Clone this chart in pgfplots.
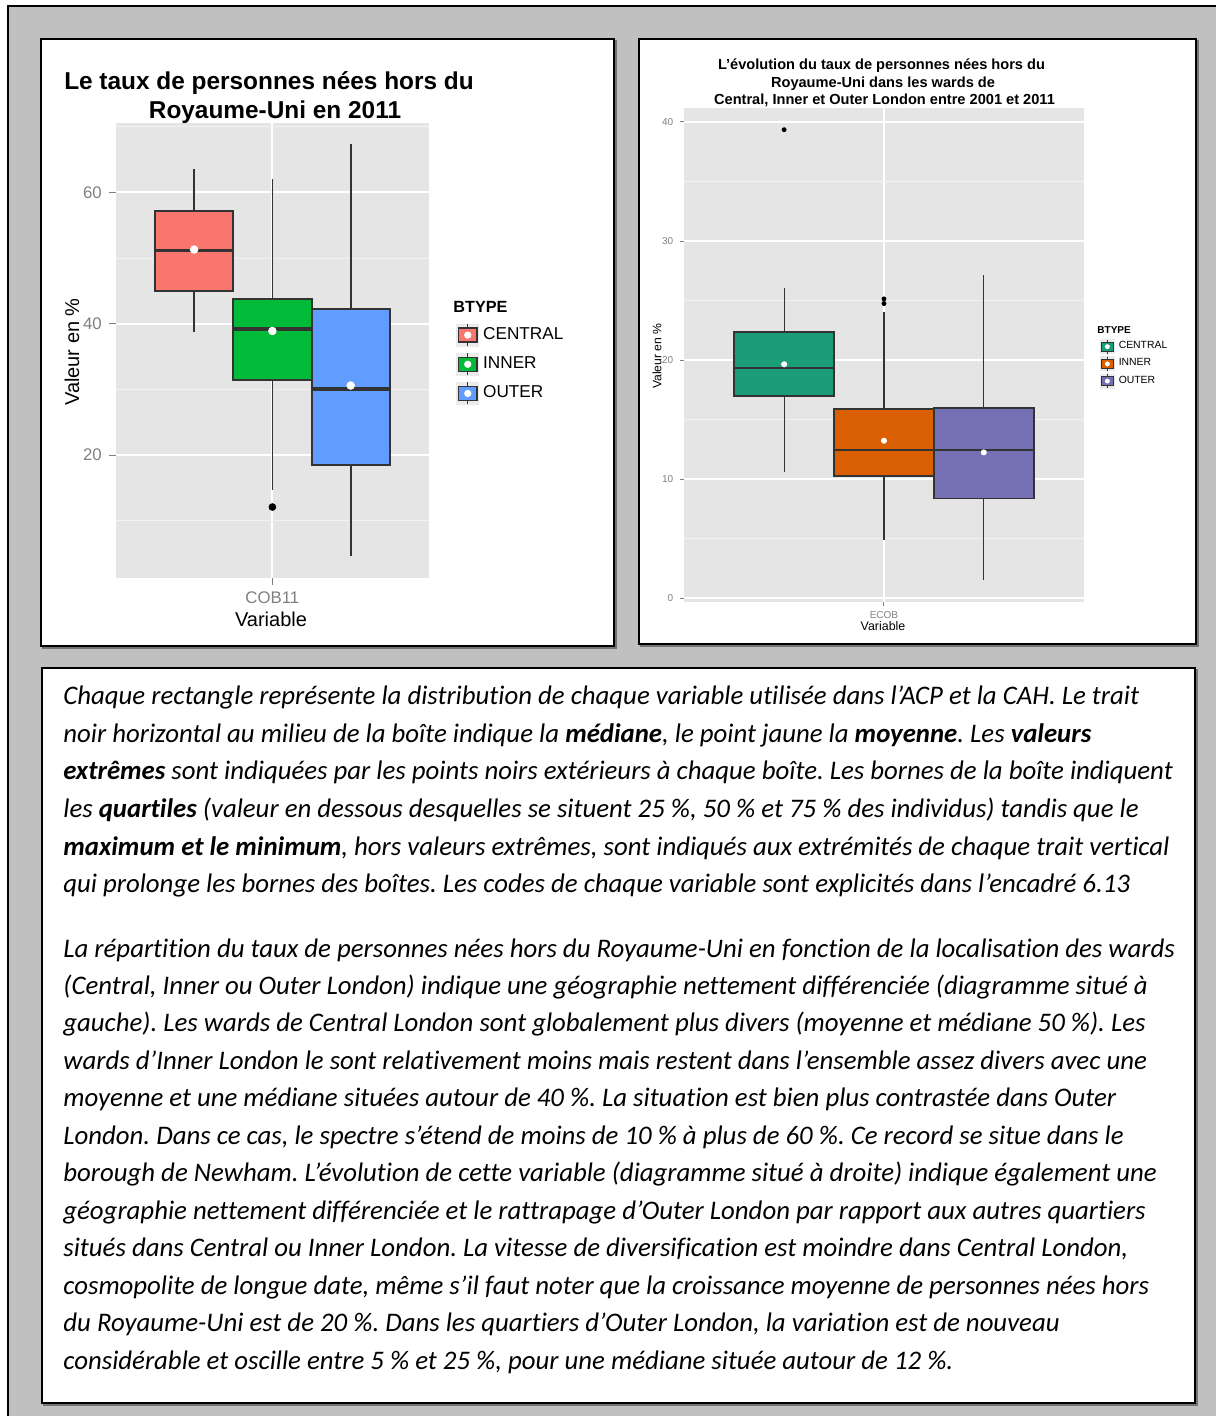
\documentclass[border=0pt]{standalone}
\usepackage{fontspec}
\setmainfont{Liberation Sans}
\newfontfamily\carlito{Carlito}[Ligatures=NoCommon]
\usepackage{pgfplots}
\pgfplotsset{compat=1.18}
\usepgfplotslibrary{statistics}

\definecolor{framegray}{HTML}{C0C0C0}
\definecolor{panelbg}{HTML}{E5E5E5}
\definecolor{minorgrid}{HTML}{F2F2F2}
\definecolor{boxline}{HTML}{333333}
\definecolor{ticktext}{HTML}{808080}
\definecolor{keybg}{HTML}{EBEBEB}
\definecolor{cenL}{HTML}{F8766D}
\definecolor{innL}{HTML}{00BA38}
\definecolor{outL}{HTML}{619CFF}
\definecolor{cenR}{HTML}{1B9E77}
\definecolor{innR}{HTML}{D95F02}
\definecolor{outR}{HTML}{7570B3}

\pgfplotsset{
  ggpanel/.style={
    scale only axis, anchor=south west,
    xmin=0.4, xmax=1.6, xtick={1},
    axis background/.style={fill=panelbg},
    axis line style={draw=none},
    tick align=outside, tick pos=left,
    ymajorgrids, yminorgrids, xmajorgrids,
    major grid style={white},
    minor grid style={minorgrid},
    minor tick length=0pt,
    ticklabel style={text=ticktext},
    /pgf/number format/assume math mode=true,
  },
  % boxplot styles (ggplot look)
  boxplot/ggL/.style={draw direction=y, box extend=0.3, whisker extend=0,
    every box/.style={draw=boxline, fill=#1, line width=1pt},
    every whisker/.style={draw=boxline, line width=0.9pt},
    every median/.style={draw=boxline, line width=1.7pt}},
  boxplot/ggR/.style={draw direction=y, box extend=0.3, whisker extend=0,
    every box/.style={draw=boxline, fill=#1, line width=0.8pt},
    every whisker/.style={draw=boxline, line width=0.6pt},
    every median/.style={draw=boxline, line width=1.1pt}},
  % legend keys
  bpkeyL/.style={legend image code/.code={
    \fill[keybg] (0pt,-5.5pt) rectangle (11pt,5.5pt);
    \draw[boxline, line width=0.6pt] (5.5pt,-5.5pt) -- (5.5pt,5.5pt);
    \draw[boxline, fill=#1, line width=0.7pt] (0.8pt,-3.5pt) rectangle (10.2pt,3.5pt);
    \fill[white] (5.5pt,0pt) circle (1.6pt);}},
  bpkeyR/.style={legend image code/.code={
    \fill[keybg] (0pt,-3.5pt) rectangle (7pt,3.5pt);
    \draw[boxline, line width=0.4pt] (3.5pt,-3.5pt) -- (3.5pt,3.5pt);
    \draw[boxline, fill=#1, line width=0.5pt] (0.6pt,-2.2pt) rectangle (6.4pt,2.2pt);
    \fill[white] (3.5pt,0pt) circle (1pt);}},
}

\begin{document}
\frenchspacing
\begin{tikzpicture}
\path[use as bounding box] (0,0) rectangle (607.5pt,708pt);
\fill[white] (0,0) rectangle (607.5pt,708pt);

% frames, coordinates in pixels from the top left corner
\begin{scope}[x=0.5pt, y=-0.5pt, shift={(0pt,708pt)}]
  \fill[framegray] (8,6) rectangle (1216,1417);
  \draw[black, line width=1pt] (8,1417) -- (8,6) -- (1216,6);
  \draw[black!55, line width=1pt] (43,41) rectangle (616,648);
  \filldraw[fill=white, draw=black, line width=1.1pt] (41,39) rectangle (614,646);
  \draw[black!55, line width=1pt] (641,41) rectangle (1198,646);
  \filldraw[fill=white, draw=black, line width=1.1pt] (639,39) rectangle (1196,644);
  \draw[black!55, line width=1pt] (44,670) rectangle (1197,1405);
  \filldraw[fill=white, draw=black, line width=1.1pt] (42,668) rectangle (1195,1403);
\end{scope}

% left panel: 2011
\begin{axis}[ggpanel,
  at={(57.9pt,419pt)}, width=156.6pt, height=227.6pt,
  ymin=1.3, ymax=70.6,
  ytick={20,40,60}, minor ytick={10,30,50,70},
  xticklabels={COB11},
  major tick length=3.5pt,
  tick style={ticktext, line width=0.6pt},
  ticklabel style={font=\fontsize{8.4}{9}\selectfont},
  major grid style={line width=1pt},
  minor grid style={line width=0.5pt},
  legend style={at={(1.086,0.56)}, anchor=north west, draw=none, fill=none,
    inner sep=0pt, row sep=3pt, font=\fontsize{8.6}{9}\selectfont,
    cells={anchor=west}},
]
\addplot[forget plot, mark=*, mark size=1.7pt, mark options={black, fill=black},
  boxplot prepared={ggL=cenL, draw position=0.7,
    lower whisker=38.7, lower quartile=45.0, median=51.2,
    upper quartile=57.1, upper whisker=63.6}] coordinates {};
\addplot[forget plot, mark=*, mark size=1.7pt, mark options={black, fill=black},
  boxplot prepared={ggL=innL, draw position=1.0,
    lower whisker=14.7, lower quartile=31.5, median=39.2,
    upper quartile=43.8, upper whisker=62.1}] coordinates {(0,12.1)};
\addplot[forget plot, mark=*, mark size=1.7pt, mark options={black, fill=black},
  boxplot prepared={ggL=outL, draw position=1.3,
    lower whisker=4.6, lower quartile=18.5, median=30.1,
    upper quartile=42.3, upper whisker=67.4}] coordinates {};
% means
\addplot[forget plot, only marks, mark=*, mark size=1.9pt, white]
  coordinates {(0.7,51.3) (1.0,38.9) (1.3,30.6)};
\addlegendimage{bpkeyL=cenL}\addlegendentry{CENTRAL}
\addlegendimage{bpkeyL=innL}\addlegendentry{INNER}
\addlegendimage{bpkeyL=outL}\addlegendentry{OUTER}
\end{axis}

% right panel: change 2001-2011
\begin{axis}[ggpanel,
  at={(342.15pt,406.9pt)}, width=199.65pt, height=247.25pt,
  ymin=-0.33, ymax=41.2,
  ytick={0,10,20,30,40}, minor ytick={5,15,25,35},
  xticklabels={ECOB},
  major tick length=2pt,
  tick style={ticktext, line width=0.5pt},
  ticklabel style={font=\fontsize{5}{6}\selectfont},
  xticklabel style={yshift=1pt},
  major grid style={line width=0.9pt},
  minor grid style={line width=0.45pt},
  legend style={at={(1.04,0.536)}, anchor=north west, draw=none, fill=none,
    inner sep=0pt, row sep=-0.5pt, font=\fontsize{5.2}{6}\selectfont,
    cells={anchor=west}},
]
\addplot[forget plot, mark=*, mark size=1pt, mark options={black, fill=black},
  boxplot prepared={ggR=cenR, draw position=0.7,
    lower whisker=10.62, lower quartile=16.98, median=19.33,
    upper quartile=22.37, upper whisker=26.03}] coordinates {(0,39.35)};
\addplot[forget plot, mark=*, mark size=1pt, mark options={black, fill=black},
  boxplot prepared={ggR=innR, draw position=1.0,
    lower whisker=4.9, lower quartile=10.29, median=12.48,
    upper quartile=15.9, upper whisker=24.0}] coordinates {(0,24.75) (0,25.14)};
\addplot[forget plot, mark=*, mark size=1pt, mark options={black, fill=black},
  boxplot prepared={ggR=outR, draw position=1.3,
    lower whisker=1.57, lower quartile=8.39, median=12.48,
    upper quartile=16.0, upper whisker=27.17}] coordinates {};
\addplot[forget plot, only marks, mark=*, mark size=1.3pt, white]
  coordinates {(0.7,19.65) (1.0,13.23) (1.3,12.25)};
\addlegendimage{bpkeyR=cenR}\addlegendentry{CENTRAL}
\addlegendimage{bpkeyR=innR}\addlegendentry{INNER}
\addlegendimage{bpkeyR=outR}\addlegendentry{OUTER}
\end{axis}

% titles, labels and the commentary
\begin{scope}[x=0.5pt, y=-0.5pt, shift={(0pt,708pt)},
  txt/.style={anchor=base west, inner sep=0pt,
    font=\carlito\itshape\fontsize{13.4}{16}\selectfont}]
  \node[anchor=base, inner sep=0pt, font=\bfseries\fontsize{12.2}{14}\selectfont] at (269,90) {Le taux de personnes nées hors du};
  \node[anchor=base, inner sep=0pt, font=\bfseries\fontsize{12.2}{14}\selectfont] at (275,119) {Royaume-Uni en 2011};
  \node[anchor=base, inner sep=0pt, font=\fontsize{10}{12}\selectfont] at (271,627) {Variable};
  \node[rotate=90, inner sep=0pt, font=\fontsize{10}{12}\selectfont] at (72,352) {Valeur en \%};
  \node[anchor=base west, inner sep=0pt, font=\bfseries\fontsize{8.1}{9}\selectfont] at (453,313) {BTYPE};

  \node[anchor=base, inner sep=0pt, font=\bfseries\fontsize{7.3}{9}\selectfont] at (881.5,70) {L'évolution du taux de personnes nées hors du};
  \node[anchor=base, inner sep=0pt, font=\bfseries\fontsize{7.3}{9}\selectfont] at (883,88) {Royaume-Uni dans les wards de};
  \node[anchor=base, inner sep=0pt, font=\bfseries\fontsize{7.3}{9}\selectfont] at (884.5,105) {Central, Inner et Outer London entre 2001 et 2011};
  \node[anchor=base, inner sep=0pt, font=\fontsize{6.2}{7}\selectfont] at (883,631) {Variable};
  \node[rotate=90, inner sep=0pt, font=\fontsize{6.1}{7}\selectfont] at (657,356) {Valeur en \%};
  \node[anchor=base west, inner sep=0pt, font=\bfseries\fontsize{5}{6}\selectfont] at (1097,334) {BTYPE};

  \node[txt] at (63,705) {Chaque rectangle représente la distribution de chaque variable utilisée dans l’ACP et la CAH. Le trait};
  \node[txt] at (63,743) {noir horizontal au milieu de la boîte indique la \textbf{médiane}, le point jaune la \textbf{moyenne}. Les \textbf{valeurs}};
  \node[txt] at (63,780) {\textbf{extrêmes} sont indiquées par les points noirs extérieurs à chaque boîte. Les bornes de la boîte indiquent};
  \node[txt] at (63,818) {les \textbf{quartiles} (valeur en dessous desquelles se situent 25 \%, 50 \% et 75 \% des individus) tandis que le};
  \node[txt] at (63,856) {\textbf{maximum et le minimum}, hors valeurs extrêmes, sont indiqués aux extrémités de chaque trait vertical};
  \node[txt] at (63,893) {qui prolonge les bornes des boîtes. Les codes de chaque variable sont explicités dans l’encadré 6.13};

  \node[txt] at (63,958) {La répartition du taux de personnes nées hors du Royaume-Uni en fonction de la localisation des wards};
  \node[txt] at (63,995) {(Central, Inner ou Outer London) indique une géographie nettement différenciée (diagramme situé à};
  \node[txt] at (63,1032) {gauche). Les wards de Central London sont globalement plus divers (moyenne et médiane 50 \%). Les};
  \node[txt] at (63,1070) {wards d’Inner London le sont relativement moins mais restent dans l’ensemble assez divers avec une};
  \node[txt] at (63,1107) {moyenne et une médiane situées autour de 40 \%. La situation est bien plus contrastée dans Outer};
  \node[txt] at (63,1145) {London. Dans ce cas, le spectre s’étend de moins de 10 \% à plus de 60 \%. Ce record se situe dans le};
  \node[txt] at (63,1182) {borough de Newham. L’évolution de cette variable (diagramme situé à droite) indique également une};
  \node[txt] at (63,1220) {géographie nettement différenciée et le rattrapage d’Outer London par rapport aux autres quartiers};
  \node[txt] at (63,1257) {situés dans Central ou Inner London. La vitesse de diversification est moindre dans Central London,};
  \node[txt] at (63,1295) {cosmopolite de longue date, même s’il faut noter que la croissance moyenne de personnes nées hors};
  \node[txt] at (63,1332) {du Royaume-Uni est de 20 \%. Dans les quartiers d’Outer London, la variation est de nouveau};
  \node[txt] at (63,1370) {considérable et oscille entre 5 \% et 25 \%, pour une médiane située autour de 12 \%.};
\end{scope}
\end{tikzpicture}
\end{document}
